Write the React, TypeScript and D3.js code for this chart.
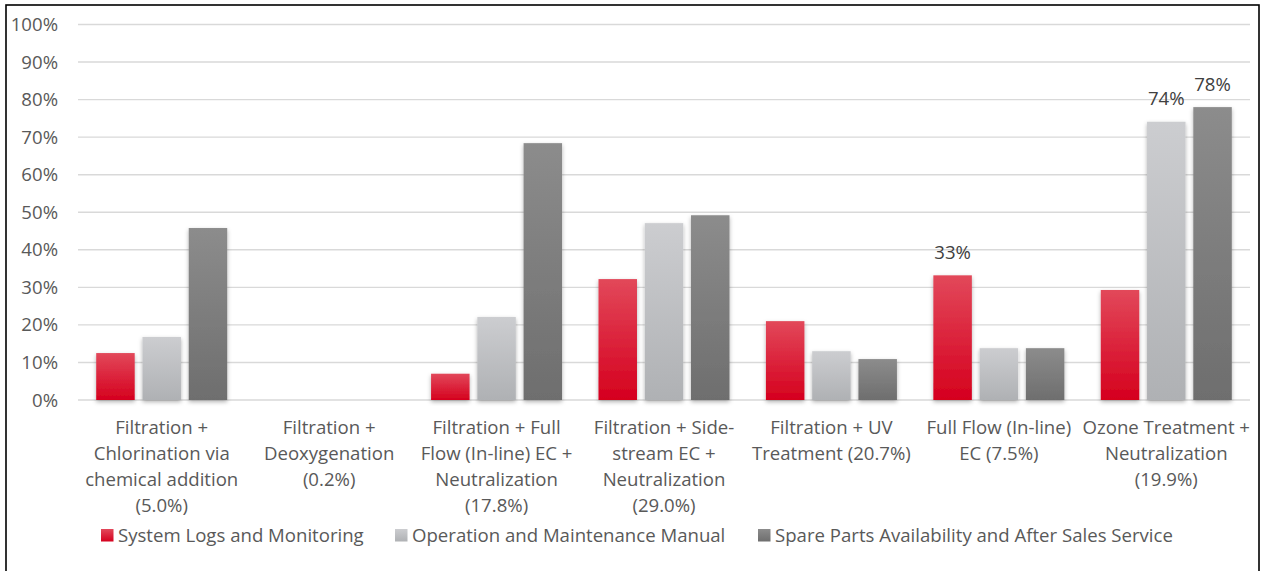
import React from "react";
import * as d3 from "d3";

const categories: string[][] = [
  ["Filtration +", "Chlorination via", "chemical addition", "(5.0%)"],
  ["Filtration +", "Deoxygenation", "(0.2%)"],
  ["Filtration + Full", "Flow (In-line) EC +", "Neutralization", "(17.8%)"],
  ["Filtration + Side-", "stream EC +", "Neutralization", "(29.0%)"],
  ["Filtration + UV", "Treatment (20.7%)"],
  ["Full Flow (In-line)", "EC (7.5%)"],
  ["Ozone Treatment +", "Neutralization", "(19.9%)"],
];

const seriesNames = [
  "System Logs and Monitoring",
  "Operation and Maintenance Manual",
  "Spare Parts Availability and After Sales Service",
];

const systemLogs = [12.5, 0, 7, 32.2, 21, 33.2, 29.3];
const omManual = [16.8, 0, 22.1, 47.1, 13, 13.8, 74.1];
const spareParts = [45.8, 0, 68.4, 49.2, 10.9, 13.8, 78.0];

// which bars carry a data label: [categoryIndex, seriesIndex, text]
const dataLabels: [number, number, string][] = [
  [5, 0, "33%"],
  [6, 1, "74%"],
  [6, 2, "78%"],
];

const yTicks = [0, 10, 20, 30, 40, 50, 60, 70, 80, 90, 100];

const W = 1262;
const H = 571;
const FONT = "'Open Sans', Lato, sans-serif";
const FS = 18.6;

export default function App() {
  const series = [systemLogs, omManual, spareParts];
  const left = 78;
  const right = 1250;
  const top = 24.5;
  const bottom = 400;

  const x0 = d3
    .scaleBand<number>()
    .domain(categories.map((_, i) => i))
    .range([left, right])
    .paddingInner(0)
    .paddingOuter(0);
  const groupW = 131;
  const x1 = d3
    .scaleBand<number>()
    .domain([0, 1, 2])
    .range([0, groupW])
    .paddingInner(0.168)
    .paddingOuter(0);
  const y = d3.scaleLinear().domain([0, 100]).range([bottom, top]);

  const gradIds = ["gRed", "gLight", "gDark"];
  const legendX = [101, 395, 758];

  const barX = (ci: number, si: number) =>
    (x0(ci) as number) + (x0.bandwidth() - groupW) / 2 + (x1(si) as number);

  return (
    <svg
      width={W}
      height={H}
      style={{ position: "absolute", left: 0, top: 0, background: "#fff" }}
      fontFamily={FONT}
    >
      <defs>
        <linearGradient id="gRed" x1="0" y1="0" x2="0" y2="1">
          <stop offset="0" stopColor="#e2485a" />
          <stop offset="1" stopColor="#d5001e" />
        </linearGradient>
        <linearGradient id="gLight" x1="0" y1="0" x2="0" y2="1">
          <stop offset="0" stopColor="#cccdd0" />
          <stop offset="1" stopColor="#afb1b4" />
        </linearGradient>
        <linearGradient id="gDark" x1="0" y1="0" x2="0" y2="1">
          <stop offset="0" stopColor="#8c8c8c" />
          <stop offset="1" stopColor="#6e6e6e" />
        </linearGradient>
        <filter id="shadow" x="-30%" y="-10%" width="160%" height="130%">
          <feDropShadow dx="0" dy="2" stdDeviation="2.2" floodColor="#000" floodOpacity="0.3" />
        </filter>
      </defs>

      <rect x={6} y={5} width={1253} height={620} fill="#fff" stroke="#000" strokeWidth={1.6} />

      {/* gridlines */}
      {yTicks.map((t) => (
        <line
          key={t}
          x1={left}
          x2={right}
          y1={y(t)}
          y2={y(t)}
          stroke="#d9d9d9"
          strokeWidth={1.4}
        />
      ))}

      {/* y tick labels */}
      {yTicks.map((t) => (
        <text
          key={"l" + t}
          x={58}
          y={y(t)}
          dy="0.35em"
          textAnchor="end"
          fontSize={FS}
          fill="#595959"
        >
          {t}%
        </text>
      ))}

      {/* bars */}
      {series.map((vals, si) =>
        vals.map((v, ci) =>
          v > 0 ? (
            <rect
              key={`b${si}-${ci}`}
              x={barX(ci, si)}
              y={y(v)}
              width={x1.bandwidth()}
              height={bottom - y(v)}
              fill={`url(#${gradIds[si]})`}
              filter="url(#shadow)"
            />
          ) : null
        )
      )}

      {/* data labels */}
      {dataLabels.map(([ci, si, txt]) => (
        <text
          key={"d" + ci + si}
          x={barX(ci, si) + x1.bandwidth() / 2}
          y={y(series[si][ci]) - 23}
          dy="0.35em"
          textAnchor="middle"
          fontSize={FS}
          fill="#404040"
        >
          {txt}
        </text>
      ))}

      {/* category labels */}
      {categories.map((lines, ci) => (
        <text
          key={"c" + ci}
          x={(x0(ci) as number) + x0.bandwidth() / 2}
          textAnchor="middle"
          fontSize={FS}
          fill="#595959"
        >
          {lines.map((ln, li) => (
            <tspan key={li} x={(x0(ci) as number) + x0.bandwidth() / 2} y={427 + li * 26} dy="0.35em">
              {ln}
            </tspan>
          ))}
        </text>
      ))}

      {/* legend */}
      {seriesNames.map((name, si) => (
        <g key={"lg" + si} transform={`translate(${legendX[si]},535)`}>
          <rect x={0} y={-6} width={12.5} height={12.5} fill={`url(#${gradIds[si]})`} />
          <text x={17} y={0} dy="0.35em" fontSize={FS} fill="#595959">
            {name}
          </text>
        </g>
      ))}
    </svg>
  );
}
